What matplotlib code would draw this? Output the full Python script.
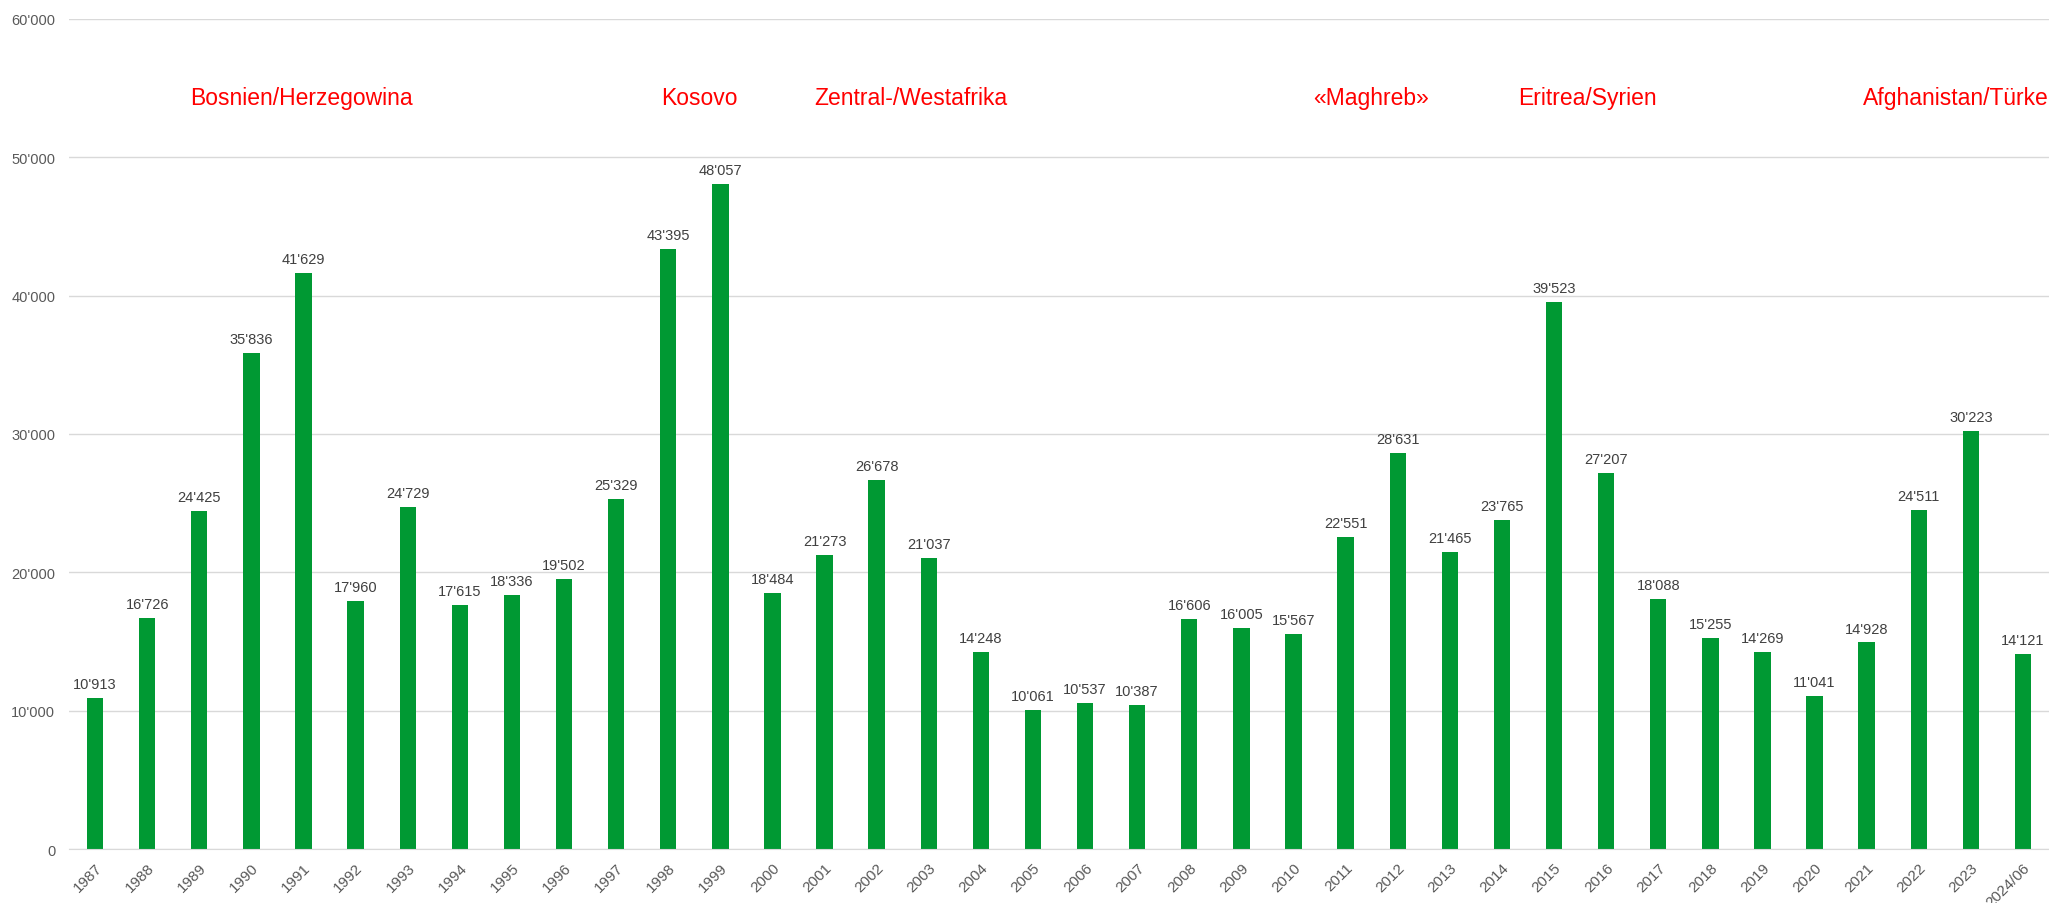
import matplotlib
matplotlib.use("Agg")
from matplotlib import pyplot as plt
from matplotlib.ticker import FuncFormatter

plt.rcParams['font.family'] = ['Liberation Sans', 'DejaVu Sans']

# Asylgesuche pro Jahr
years = ['1987', '1988', '1989', '1990', '1991', '1992', '1993', '1994', '1995', '1996',
         '1997', '1998', '1999', '2000', '2001', '2002', '2003', '2004', '2005', '2006',
         '2007', '2008', '2009', '2010', '2011', '2012', '2013', '2014', '2015', '2016',
         '2017', '2018', '2019', '2020', '2021', '2022', '2023', '2024/06']
values = [10913, 16726, 24425, 35836, 41629, 17960, 24729, 17615, 18336, 19502,
          25329, 43395, 48057, 18484, 21273, 26678, 21037, 14248, 10061, 10537,
          10387, 16606, 16005, 15567, 22551, 28631, 21465, 23765, 39523, 27207,
          18088, 15255, 14269, 11041, 14928, 24511, 30223, 14121]

# Herkunftsregionen (Text, x-Position in Kategorien)
regions = ['Bosnien/Herzegowina', 'Kosovo', 'Zentral-/Westafrika', '«Maghreb»', 'Eritrea/Syrien']
region_x = [3.96, 11.6, 15.66, 24.49, 28.65]
last_region = 'Afghanistan/Türkei'
last_region_x = 33.93


def fmt(v):
    return f"{int(v):,}".replace(',', "'")


fig = plt.figure(figsize=(20.49, 9.04), dpi=100)
ax = fig.add_axes([0.0337, 0.0597, 0.9663, 0.9183])

x = list(range(len(years)))
ax.bar(x, values, width=0.314, color='#009933', zorder=3)

for xi, v in zip(x, values):
    ax.annotate(fmt(v), (xi, v), xytext=(0, 5), textcoords='offset points',
                ha='center', va='bottom', fontsize=10.5, color='#404040')

for name, xr in zip(regions, region_x):
    ax.text(xr, 54300, name, ha='center', va='center', fontsize=16.5, color='red')
# letzter Text läuft wie im Original über den rechten Rand
ax.text(last_region_x, 54300, last_region, ha='left', va='center', fontsize=16.5,
        color='red', clip_on=False)

ax.set_xlim(-0.5, len(years) - 0.5)
ax.set_ylim(0, 60000)
ax.set_yticks(range(0, 60001, 10000))
ax.yaxis.set_major_formatter(FuncFormatter(lambda v, p: fmt(v)))
ax.set_xticks(x)
ax.set_xticklabels(years, rotation=45, ha='right', rotation_mode='anchor')
ax.tick_params(axis='both', length=0, labelsize=10.5, colors='#595959')
ax.tick_params(axis='x', labelsize=11, pad=8)
ax.tick_params(axis='y', pad=10)

ax.grid(axis='y', color='#d9d9d9', linewidth=1, zorder=0)
for s in ['top', 'right', 'left']:
    ax.spines[s].set_visible(False)
ax.spines['bottom'].set_color('#d9d9d9')
ax.spines['bottom'].set_zorder(4)

fig.savefig('out.png', dpi=100)
